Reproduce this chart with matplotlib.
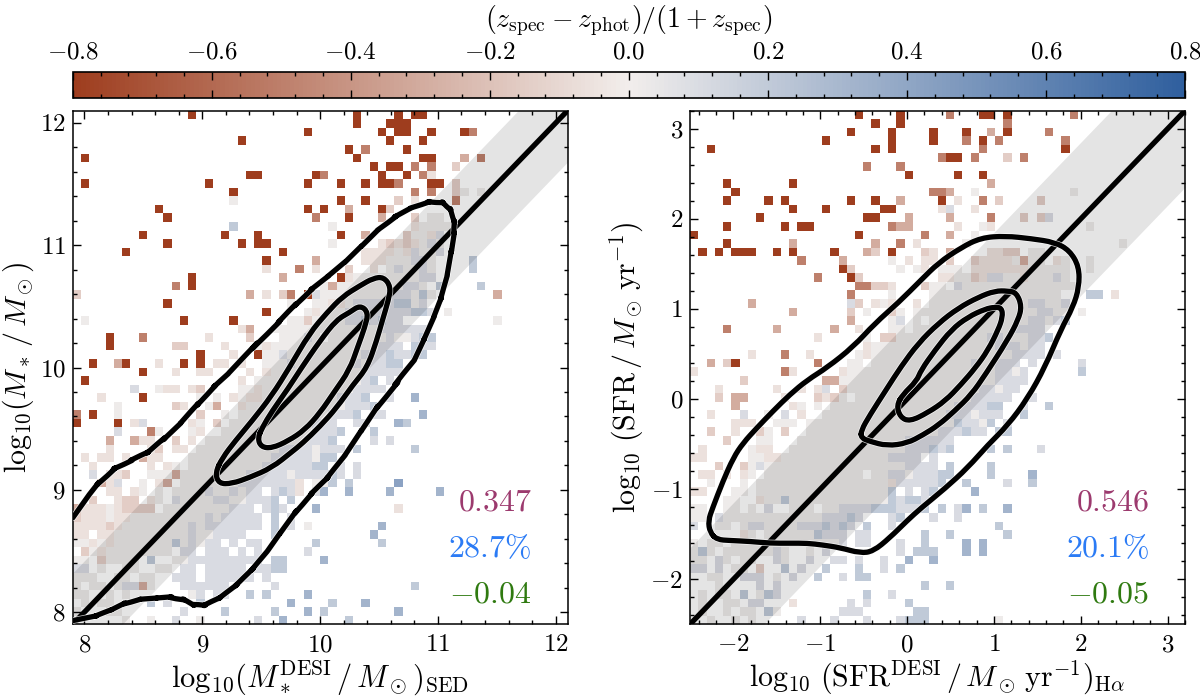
import numpy as np
import matplotlib
matplotlib.use('Agg')
import matplotlib.pyplot as plt
import matplotlib.patheffects as pe
from matplotlib.cm import ScalarMappable
from matplotlib.colors import LinearSegmentedColormap, Normalize
from matplotlib.patches import PathPatch
from matplotlib.path import Path
from matplotlib.ticker import MultipleLocator

plt.rcParams['mathtext.fontset'] = 'cm'
plt.rcParams['font.family'] = ['cmr10', 'DejaVu Serif']
plt.rcParams['axes.unicode_minus'] = False

N_BINS = 60

mass_lim = [7.9, 12.1]
sfr_lim = [-2.5, 3.2]
mass_scatter = 0.42
sfr_scatter = 0.85

# median colour residual for each letter used in the cell tables
levels = {'a': -0.8, 'b': -0.5, 'c': -0.3, 'd': -0.15, 'e': -0.06,
          'f': 0.015, 'g': 0.1, 'h': 0.2, 'i': 0.32, 'j': 0.42}

# (row from top, first column, letters); a blank leaves the cell empty
mass_cells = [
    (0, 14, "a"), (0, 34, "a"), (0, 39, "a"), (0, 41, "aa"),
    (1, 34, "a"), (1, 38, "aaa"),
    (2, 28, "a"), (2, 37, "a"), (2, 39, "aa"), (2, 43, "a"), (2, 47, "ab"),
    (3, 20, "a"), (3, 38, "a"), (3, 42, "a"),
    (4, 33, "a"), (4, 35, "b"), (4, 40, "a"),
    (5, 1, "a"), (5, 34, "a"), (5, 42, "aa"), (5, 47, "c"), (5, 49, "b"),
    (6, 36, "a"), (6, 38, "aa"), (6, 41, "b"), (6, 43, "b"), (6, 46, "d"),
    (7, 21, "aa"), (7, 29, "ab"), (7, 37, "a"), (7, 40, "a"), (7, 42, "b"), (7, 43, "e"),
    (8, 1, "a"), (8, 16, "a"), (8, 28, "a"), (8, 32, "a"), (8, 35, "a"), (8, 37, "aab"),
    (8, 43, "aa"), (8, 46, "d"),
    (9, 19, "a"), (9, 41, "b"), (9, 43, "b"), (9, 46, "df"), (9, 49, "f"),
    (10, 19, "f"), (10, 32, "a"), (10, 35, "a"), (10, 39, "d"), (10, 41, "e"), (10, 46, "b"),
    (11, 10, "a"), (11, 28, "a"), (11, 30, "a"), (11, 33, "c"), (11, 37, "ad"),
    (12, 11, "a"), (12, 29, "b"), (12, 33, "a"), (12, 37, "c"), (12, 41, "d"), (12, 43, "ff"),
    (13, 19, "h"), (13, 31, "f"), (13, 41, "effff"),
    (14, 8, "a"), (14, 18, "a"), (14, 22, "a"), (14, 32, "a"), (14, 35, "c"), (14, 40, "dffeg"),
    (15, 11, "a"), (15, 20, "a"), (15, 22, "aa"), (15, 31, "f"), (15, 37, "ededefgf"),
    (16, 6, "a"), (16, 25, "a"), (16, 35, "eeeefegffg"),
    (17, 23, "a"), (17, 29, "c"), (17, 35, "eeefffggf"), (17, 48, "h"),
    (18, 23, "e"), (18, 27, "b"), (18, 29, "e"), (18, 33, "d"), (18, 36, "e fgffgf"), (18, 48, "h"),
    (19, 14, "a"), (19, 25, "c"), (19, 32, "aeffffffffgg"),
    (20, 12, "b"), (20, 14, "a"), (20, 30, "fcffffffffggf h"), (20, 49, "h"),
    (21, 0, "d"), (21, 21, "c"), (21, 23, "e"), (21, 25, "db"), (21, 28, "agffffffffgggfhf"), (21, 51, "c"),
    (22, 11, "a"), (22, 26, "f"), (22, 29, "ffeefggggghhfg"),
    (23, 23, "a"), (23, 28, "fefffgggggggghhg f"),
    (24, 1, "f"), (24, 13, "a"), (24, 19, "a"), (24, 26, "ffdffffgghghgg"), (24, 51, "f"),
    (25, 20, "ec"), (25, 24, "fffffffffffffgggggg"),
    (26, 4, "a"), (26, 8, "b"), (26, 16, "e"), (26, 21, "d"), (26, 25, "fffgf fffffffgffghh"),
    (27, 4, "a"), (27, 12, "dd"), (27, 18, "e"), (27, 22, "fefffffffffffffggg hgg"),
    (28, 15, "a"), (28, 19, "e"), (28, 22, "a"), (28, 23, "ffgfffffffffggghgghh"),
    (29, 2, "a"), (29, 5, "ca"), (29, 10, "e"), (29, 13, "a"), (29, 15, "a"), (29, 17, "ee"), (29, 20, "e"),
    (29, 23, "fffgfffffffgfgghh"),
    (30, 8, "a"), (30, 12, "e"), (30, 15, "ee"), (30, 21, "e ef"), (30, 25, "ffffffffffggggg"),
    (31, 1, "a"), (31, 20, "e"), (31, 22, "fffffffffffffgh g"),
    (32, 7, "g"), (32, 10, "fee"), (32, 14, "ed"), (32, 20, "ffe"), (32, 23, "fffffffffffgggg"),
    (33, 3, "e"), (33, 8, "a"), (33, 15, "f"), (33, 17, "f"), (33, 19, "ef"), (33, 21, "eefffffffffgggh"),
    (33, 38, "g"), (33, 41, "i"),
    (34, 5, "f"), (34, 12, "de"), (34, 16, "fc"), (34, 20, "effffffffffffgggh"),
    (35, 0, "b"), (35, 2, "a"), (35, 5, "f"), (35, 15, "d"), (35, 18, "f"), (35, 20, "fffffffffffgggh gg"),
    (35, 42, "i"),
    (36, 0, "a"), (36, 5, "a"), (36, 7, "eg"), (36, 14, "ef"), (36, 17, "d"), (36, 19, "ffffffffffggg  gg"),
    (36, 39, "ih"),
    (37, 5, "g"), (37, 9, "bf"), (37, 14, "fe"), (37, 18, "fffffffffffgggh   h"),
    (38, 4, "c"), (38, 7, "cee"), (38, 12, "d"), (38, 14, "e"), (38, 16, "ffffffffffffgggh"), (38, 36, "g"),
    (38, 38, "g"),
    (39, 4, "e"), (39, 9, "ed"), (39, 12, "ee"), (39, 15, "ffffffffffggggfggg"), (39, 34, "h"), (39, 41, "h"),
    (40, 1, "e"), (40, 3, "ee"), (40, 6, "e"), (40, 8, "cee"), (40, 14, "ffffffffffgggggfhh"),
    (41, 2, "e"), (41, 9, "e"), (41, 11, "ef"), (41, 14, "fffffffffgggggghh g g"),
    (42, 2, "g"), (42, 4, "eed"), (42, 9, "fff"), (42, 12, "c"), (42, 13, "ffffffffgggggfgggghg"), (42, 34, "g"),
    (43, 3, "ceg"), (43, 8, "f"), (43, 10, "e"), (43, 11, "c"), (43, 13, "fffffffggggggge ff"), (43, 31, "h"),
    (43, 33, "h"), (43, 39, "j"),
    (44, 4, "ee"), (44, 7, "ef"), (44, 10, "f"), (44, 12, "ffffgffgfgg ghge g"), (44, 30, "i"), (44, 33, "i"),
    (44, 38, "i"), (44, 44, "i"),
    (45, 2, "d"), (45, 5, "edd"), (45, 9, "ef"), (45, 12, "gffffggffggg"), (45, 24, "h"), (45, 26, "h"),
    (46, 0, "ceeef"), (46, 5, "edddd"), (46, 11, "ffffffffggg g"), (46, 24, "hg"), (46, 29, "i"), (46, 39, "e"),
    (47, 0, "deeefeef"), (47, 8, "ffff"), (47, 12, "ffffgfggggg h"), (47, 26, "g"),
    (48, 0, "eeeedeff"), (48, 8, "ffffffgfggggggg"), (48, 24, "h"), (48, 26, "g"), (48, 28, "f"), (48, 37, "i"),
    (49, 0, "ee"), (49, 3, "ee"), (49, 5, "ffff"), (49, 9, "fffffgffgggg"), (49, 24, "h"), (49, 36, "i"),
    (50, 0, "ffefe"), (50, 5, "fffff"), (50, 10, "ffhfgfgg g gg"), (50, 29, "h"), (50, 37, "h"),
    (51, 1, "dfef"), (51, 5, "ffffff"), (51, 11, "f gg ggg g g"), (51, 28, "g"),
    (52, 0, "ff"), (52, 3, "dff"), (52, 6, "ff"), (52, 9, "h"), (52, 12, "ffggggggggg gg"), (52, 24, "hh"),
    (52, 30, "i"),
    (53, 0, "gg"), (53, 3, "f"), (53, 6, "ff"), (53, 10, "ff"), (53, 13, "gg ggggg ggh"), (53, 24, "hh"),
    (54, 0, "fff"), (54, 5, "ff"), (54, 8, "ff"), (54, 12, "ggg gggggg g"),
    (55, 0, "f"), (55, 2, "ff"), (55, 5, "fgg"), (55, 8, "cf"), (55, 13, "gggggg"), (55, 24, "g"), (55, 41, "h"),
    (56, 0, "ff"), (56, 4, "f"), (56, 6, "f"), (56, 14, "fg"), (56, 17, "gg"), (56, 21, "h"), (56, 23, "h"),
    (56, 28, "i"),
    (57, 1, "f"), (57, 3, "ff"), (57, 9, "h"), (57, 11, "g"), (57, 15, "h"), (57, 26, "i"), (57, 31, "h"),
    (57, 35, "i"),
    (58, 0, "f"), (58, 4, "ff"), (58, 13, "g"), (58, 18, "h"), (58, 24, "h"), (58, 28, "i"), (58, 30, "h"),
    (58, 39, "i"),
    (59, 6, "f"), (59, 9, "f"), (59, 12, "g"), (59, 15, "f"), (59, 22, "g"), (59, 25, "i"), (59, 33, "h"),
]

sfr_cells = [
    (0, 20, "a"), (0, 25, "a"), (0, 31, "b"), (0, 35, "aa"), (0, 38, "a"), (0, 46, "b"),
    (1, 22, "a"), (1, 25, "a"), (1, 38, "b"),
    (2, 19, "a"), (2, 24, "a"), (2, 29, "a"), (2, 33, "a"), (2, 36, "c"), (2, 38, "a"), (2, 43, "b"),
    (3, 16, "a"), (3, 24, "a"), (3, 29, "a"), (3, 33, "b"), (3, 35, "a"), (3, 37, "b"), (3, 45, "b"),
    (4, 2, "a"), (4, 22, "a"), (4, 24, "a"), (4, 35, "b"), (4, 45, "a"),
    (5, 30, "baa"), (5, 34, "b"), (5, 38, "d"), (5, 40, "b"),
    (6, 21, "b"), (6, 25, "b"),
    (7, 26, "a"), (7, 32, "a"), (7, 35, "a"),
    (8, 4, "a"), (8, 12, "a"), (8, 36, "c"),
    (9, 5, "a"), (9, 29, "bbc"), (9, 34, "f"), (9, 46, "f"),
    (10, 4, "a"), (10, 9, "a"), (10, 11, "a"), (10, 19, "a"), (10, 22, "a"), (10, 25, "c"), (10, 30, "a"),
    (10, 32, "e"), (10, 35, "b"), (10, 37, "d"), (10, 42, "d"),
    (11, 12, "a"), (11, 16, "a"), (11, 23, "aa"), (11, 30, "eg"), (11, 34, "e"),
    (12, 8, "a"), (12, 21, "aa"), (12, 26, "c"), (12, 31, "c"), (12, 36, "b"), (12, 40, "d"), (12, 42, "dg"),
    (13, 4, "a"), (13, 11, "a"), (13, 13, "aa"), (13, 24, "bcc"), (13, 32, "e"), (13, 35, "fe"), (13, 48, "f"),
    (14, 0, "a"), (14, 20, "a"), (14, 28, "b"), (14, 31, "c"), (14, 34, "f"),
    (15, 4, "a"), (15, 12, "c"), (15, 22, "c"), (15, 25, "b"), (15, 27, "e"), (15, 33, "f"), (15, 52, "f"),
    (16, 1, "a"), (16, 3, "a"), (16, 5, "aaa"), (16, 10, "a"), (16, 12, "a"), (16, 17, "a"), (16, 21, "cd"),
    (16, 24, "a"), (16, 28, "de"), (16, 31, "c"), (16, 36, "eedd ff"),
    (17, 13, "b"), (17, 18, "c"), (17, 24, "f"), (17, 26, "e"), (17, 28, "ee"), (17, 31, "d"),
    (17, 34, "deeeefcff ef"), (17, 48, "f"),
    (18, 18, "ad"), (18, 25, "f"), (18, 27, "f"), (18, 28, "e"), (18, 30, "fff"), (18, 34, "eeeeeeefffff"),
    (18, 48, "f"),
    (19, 15, "b"), (19, 19, "ad"), (19, 30, "eeffdeggffefffgf"),
    (20, 20, "bbddf"), (20, 24, "e"), (20, 28, "dff"), (20, 32, "gf"), (20, 34, "fffffffffffff"),
    (21, 19, "b"), (21, 24, "f"), (21, 29, "ffffffffffffffff"), (21, 48, "hh"), (21, 51, "e"),
    (22, 7, "c"), (22, 19, "gd"), (22, 22, "efe"), (22, 27, "e"), (22, 29, "ffffffffffffggffg"),
    (23, 12, "c"), (23, 19, "d"), (23, 21, "f"), (23, 24, "df"), (23, 27, "ff"), (23, 29, "fffffffffffffggff"),
    (23, 47, "f"),
    (24, 19, "c"), (24, 24, "fg"), (24, 27, "f"), (24, 29, "ffffffffffffggfgh"),
    (25, 4, "b"), (25, 10, "c"), (25, 17, "c"), (25, 20, "e"), (25, 24, "ff"), (25, 27, "ffffffffffffgggg"),
    (26, 15, "e"), (26, 21, "f"), (26, 23, "ddfffffffffffggfffggh"),
    (27, 21, "eff"), (27, 24, "fffffffffffffgggfgg"),
    (28, 7, "e"), (28, 11, "b"), (28, 14, "e"), (28, 20, "fef"), (28, 23, "ffffffffffffffffgggg g"),
    (29, 2, "c"), (29, 4, "da"), (29, 15, "b"), (29, 19, "ff"), (29, 22, "ffffffffffffgffggg g"), (29, 47, "g"),
    (30, 0, "e"), (30, 11, "be"), (30, 18, "eff"), (30, 21, "ffffffffffffffffggfg"), (30, 47, "h"),
    (31, 6, "d"), (31, 16, "cc"), (31, 18, "fff"), (31, 21, "ffffffffffffffffgggg"),
    (32, 3, "e"), (32, 10, "e"), (32, 13, "e"), (32, 15, "eg"), (32, 18, "d"), (32, 19, "ffffffffffffffffggfgg"),
    (33, 3, "d"), (33, 5, "cc"), (33, 11, "e"), (33, 15, "ded"), (33, 18, "f ffffffffffffffggggg"), (33, 41, "g"),
    (34, 5, "c"), (34, 12, "ef"), (34, 15, "f"), (34, 17, "fffffffffffffffgggghh"), (34, 40, "g"), (34, 43, "h"),
    (35, 2, "e"), (35, 6, "g"), (35, 9, "f"), (35, 11, "g"), (35, 13, "e"), (35, 16, "fffffffffffffffgggfggg"),
    (35, 40, "h"),
    (36, 5, "eee"), (36, 10, "fff"), (36, 14, "ffffffffffffffffffhggfh"), (36, 38, "g"),
    (37, 2, "d"), (37, 5, "e"), (37, 8, "df"), (37, 11, "d"), (37, 14, "ffffffffffffffffggghgg"), (37, 37, "hh"),
    (38, 4, "d"), (38, 8, "ff"), (38, 13, "fffffffffffffgggggg"),
    (39, 1, "e"), (39, 7, "fee"), (39, 12, "ffffffffffffffggghgh"), (39, 36, "h"), (39, 38, "h"), (39, 42, "g"),
    (40, 0, "ee"), (40, 7, "ffee"), (40, 11, "fffffffffffffgggg g"),
    (41, 3, "d"), (41, 6, "dfg"), (41, 9, "fffffffffffffffffgggg h"), (41, 36, "h"),
    (42, 1, "ee"), (42, 4, "e"), (42, 6, "ef"), (42, 9, "ffffffffffff"), (42, 22, "ffg"), (42, 25, "gfggghh"),
    (42, 36, "h"), (42, 41, "i"),
    (43, 2, "f"), (43, 6, "f"), (43, 8, "ffffffffffffffff"), (43, 24, "egggggh"), (43, 33, "h"), (43, 38, "g"),
    (43, 41, "h"),
    (44, 0, "ee"), (44, 5, "ff"), (44, 8, "ffffffffffffffff"), (44, 24, "h"), (44, 26, "g"), (44, 28, "gh"),
    (44, 34, "i"),
    (45, 4, "ff"), (45, 8, "effhfffffffffffff"), (45, 24, "hghhg"),
    (46, 0, "ff"), (46, 4, "ff"), (46, 7, "f"), (46, 9, "g"), (46, 12, "fff"), (46, 16, "ffgg"), (46, 20, "gghh"),
    (46, 24, "hgggh"), (46, 30, "h"), (46, 32, "gi h"), (46, 38, "i"),
    (47, 0, "ff"), (47, 3, "gff"), (47, 6, "fff"), (47, 9, "fffffffggghg"), (47, 24, "gh"), (47, 29, "g"),
    (47, 32, "g"),
    (48, 0, "g"), (48, 3, "ff"), (48, 6, "fgg"), (48, 9, "ffffggghgh"), (48, 19, "g h"), (48, 24, "g"), (48, 37, "h"),
    (49, 6, "ef"), (49, 9, "ffffffhggg gg"), (49, 28, "h"), (49, 31, "h"), (49, 38, "h"),
    (50, 0, "f"), (50, 2, "ff"), (50, 5, "ffff"), (50, 9, "fffffffffg"), (50, 20, "gg"), (50, 25, "g"),
    (50, 28, "h"), (50, 33, "i"), (50, 35, "i"),
    (51, 0, "fhf"), (51, 4, "fff"), (51, 7, "fff"), (51, 10, "gf"), (51, 14, "f g"), (51, 25, "g"), (51, 27, "hhh"),
    (51, 33, "i"), (51, 35, "i"),
    (52, 0, "ff"), (52, 3, "gf"), (52, 6, "ff"), (52, 10, "gf"), (52, 14, "g"), (52, 17, "gg"), (52, 20, "g"),
    (52, 23, "g"), (52, 26, "i"), (52, 29, "i"),
    (53, 0, "gg"), (53, 3, "g"), (53, 5, "ff"), (53, 8, "d"), (53, 11, "h"), (53, 13, "g"), (53, 16, "h"),
    (53, 20, "h"), (53, 23, "g"), (53, 25, "h"),
    (54, 2, "ff"), (54, 6, "ggg"), (54, 10, "f"), (54, 12, "g"), (54, 15, "h"), (54, 18, "g"), (54, 20, "hh"),
    (55, 3, "f"), (55, 8, "g"), (55, 10, "g"), (55, 28, "h"), (55, 31, "h"),
    (56, 1, "f"), (56, 3, "ff"), (56, 6, "h"), (56, 8, "fhg"), (56, 21, "h"), (56, 24, "g"),
    (57, 1, "f"), (57, 4, "ff"), (57, 7, "gg"), (57, 12, "e"), (57, 19, "g"), (57, 21, "g"), (57, 26, "h"),
    (58, 1, "f"), (58, 4, "f"), (58, 6, "ff"), (58, 9, "hf"), (58, 18, "ggg"), (58, 27, "hh"),
    (59, 2, "f"), (59, 5, "f"), (59, 7, "f"), (59, 13, "g"), (59, 17, "g"), (59, 21, "g"), (59, 25, "ghhh"),
    (59, 37, "f"),
]

# density contours of the two samples, as (x, y) control vertices
mass_outer = [
    (7.9, 8.77), (8.04, 8.96), (8.17, 9.12), (8.32, 9.22), (8.46, 9.26), (8.60, 9.34), (8.74, 9.48),
    (8.89, 9.61), (9.02, 9.77), (9.17, 9.91), (9.28, 10.0), (9.57, 10.31), (9.72, 10.43), (9.85, 10.58),
    (9.99, 10.69), (10.14, 10.80), (10.28, 10.92), (10.42, 11.06), (10.56, 11.19), (10.70, 11.27),
    (10.84, 11.34), (10.99, 11.37), (11.08, 11.34), (11.13, 11.26), (11.15, 11.14), (11.13, 11.07),
    (11.10, 10.85), (11.06, 10.66), (11.0, 10.49), (10.93, 10.33), (10.84, 10.14), (10.76, 9.98),
    (10.56, 9.78), (10.42, 9.59), (10.28, 9.38), (10.14, 9.18), (10.0, 9.03), (9.87, 8.92), (9.73, 8.74),
    (9.59, 8.55), (9.51, 8.44), (9.36, 8.28), (9.23, 8.17), (9.08, 8.07), (8.97, 8.04), (8.89, 8.07),
    (8.80, 8.13), (8.68, 8.12), (8.55, 8.11), (8.40, 8.10), (8.29, 8.05), (8.17, 7.99), (8.04, 7.95),
    (7.9, 7.93),
]
mass_middle = [
    (9.11, 9.14), (9.14, 9.05), (9.25, 9.05), (9.40, 9.10), (9.59, 9.18), (9.76, 9.31), (9.85, 9.38),
    (10.0, 9.52), (10.14, 9.67), (10.28, 9.86), (10.40, 10.0), (10.48, 10.22), (10.53, 10.39),
    (10.58, 10.55), (10.60, 10.66), (10.54, 10.74), (10.45, 10.73), (10.34, 10.67), (10.19, 10.58),
    (10.06, 10.45), (9.91, 10.28), (9.74, 10.0), (9.59, 9.77), (9.42, 9.56), (9.28, 9.40), (9.17, 9.26),
]
mass_inner = [
    (9.47, 9.42), (9.50, 9.35), (9.59, 9.34), (9.73, 9.40), (9.87, 9.49), (10.0, 9.63), (10.12, 9.80),
    (10.25, 9.98), (10.32, 10.17), (10.38, 10.33), (10.41, 10.45), (10.34, 10.51), (10.25, 10.45),
    (10.14, 10.39), (10.0, 10.22), (9.83, 9.98), (9.73, 9.83), (9.59, 9.64), (9.51, 9.51),
]
sfr_outer = [
    (-2.27, -1.48), (-2.29, -1.35), (-2.24, -1.21), (-2.12, -0.91), (-2.0, -0.65), (-1.89, -0.49),
    (-1.73, -0.32), (-1.54, -0.13), (-1.35, 0.05), (-1.15, 0.21), (-0.92, 0.35), (-0.62, 0.58),
    (-0.37, 0.84), (-0.10, 1.07), (0.16, 1.32), (0.36, 1.51), (0.62, 1.68), (0.85, 1.79), (1.13, 1.81),
    (1.43, 1.78), (1.70, 1.74), (1.87, 1.65), (1.98, 1.47), (1.98, 1.24), (1.91, 1.02), (1.77, 0.77),
    (1.59, 0.36), (1.39, 0.01), (1.16, -0.29), (0.93, -0.51), (0.70, -0.76), (0.44, -0.99), (0.16, -1.21),
    (0.0, -1.35), (-0.20, -1.54), (-0.39, -1.69), (-0.54, -1.71), (-0.77, -1.65), (-0.97, -1.62),
    (-1.15, -1.60), (-1.35, -1.60), (-1.58, -1.60), (-1.81, -1.58), (-2.04, -1.57), (-2.19, -1.56),
]
sfr_middle = [
    (-0.53, -0.43), (-0.43, -0.47), (-0.23, -0.52), (0.0, -0.49), (0.18, -0.40), (0.36, -0.29), (0.55, -0.13),
    (0.74, 0.05), (0.90, 0.27), (1.16, 0.66), (1.28, 0.88), (1.32, 1.03), (1.26, 1.18),
    (1.16, 1.20), (1.01, 1.20), (0.82, 1.13), (0.59, 1.01), (0.36, 0.84), (0.13, 0.62), (-0.07, 0.36),
    (-0.23, 0.12), (-0.43, -0.18), (-0.53, -0.35),
]
sfr_inner = [
    (-0.12, -0.07), (-0.08, -0.20), (0.03, -0.25), (0.24, -0.15), (0.44, -0.02), (0.62, 0.16), (0.79, 0.35),
    (0.93, 0.54), (1.05, 0.77), (1.10, 0.91), (1.09, 1.01), (1.01, 1.02), (0.90, 1.0), (0.70, 0.91),
    (0.51, 0.77), (0.32, 0.54), (0.16, 0.32), (0.11, 0.20), (-0.05, 0.05),
]

mass_stats = ["$0.347$", r"$28.7\%$", "$-0.04$"]
sfr_stats = ["$0.546$", r"$20.1\%$", "$-0.05$"]
stat_colors = ['#9c3a6e', '#2b7bf5', '#2f7a10']

mass_ticks = [8, 9, 10, 11, 12]
sfr_xticks = [-2, -1, 0, 1, 2, 3]
sfr_yticks = [-2, -1, 0, 1, 2, 3]
cbar_ticks = [-0.8, -0.6, -0.4, -0.2, 0.0, 0.2, 0.4, 0.6, 0.8]

cmap = LinearSegmentedColormap.from_list('residual', ['#9e3d1e', '#f2eeec', '#2f5f9e'])
norm = Normalize(-0.8, 0.8)


def build_grid(cells):
    grid = np.full((N_BINS, N_BINS), np.nan)
    for row, col, letters in cells:
        for i, letter in enumerate(letters):
            if letter != ' ':
                grid[N_BINS - 1 - row, col + i] = levels[letter]
    return np.ma.masked_invalid(grid)


def contour_path(points, closed=True):
    # quadratic curve through the segment midpoints, the vertices act as control points
    pts = np.array(points, dtype=float)
    if closed:
        mids = (pts + np.roll(pts, -1, axis=0)) / 2
        verts = [mids[-1]]
        for p, m in zip(pts, mids):
            verts += [p, m]
        codes = [Path.MOVETO] + [Path.CURVE3] * (len(verts) - 1)
    else:
        mids = (pts[1:-2] + pts[2:-1]) / 2
        verts = [pts[0], pts[1]]
        codes = [Path.MOVETO, Path.LINETO]
        for p, m in zip(pts[2:-1], mids):
            verts += [p, m]
            codes += [Path.CURVE3, Path.CURVE3]
        verts.append(pts[-1])
        codes.append(Path.LINETO)
    return Path(np.array(verts), codes)


def draw_panel(ax, cells, lims, scatter, contours, stats, xticks, yticks):
    edges = np.linspace(lims[0], lims[1], N_BINS + 1)
    ax.pcolormesh(edges, edges, build_grid(cells), cmap=cmap, norm=norm, linewidth=0, zorder=1)

    # 1:1 relation with its scatter band
    ax.fill_between(lims, [lims[0] - scatter, lims[1] - scatter], [lims[0] + scatter, lims[1] + scatter],
                    color='k', alpha=0.105, lw=0, zorder=2)
    ax.plot(lims, lims, color='k', lw=3.8, zorder=3)

    halo = [pe.Stroke(linewidth=4.8, foreground='white', alpha=0.8), pe.Normal()]
    for line, closed in contours:
        ax.add_patch(PathPatch(contour_path(line, closed), fill=False, ec='k', lw=3.8, zorder=4,
                               joinstyle='round', capstyle='round', path_effects=halo))

    ax.set_xlim(lims)
    ax.set_ylim(lims)
    ax.set_xticks(xticks)
    ax.set_xticklabels([f"${t}$" for t in xticks])
    ax.set_yticks(yticks)
    ax.set_yticklabels([f"${t}$" for t in yticks])
    ax.xaxis.set_minor_locator(MultipleLocator(0.2))
    ax.yaxis.set_minor_locator(MultipleLocator(0.2))
    ax.tick_params(which='both', direction='in', top=True, right=True, width=1.0)
    ax.tick_params(which='major', length=5.5, labelsize=18)
    ax.tick_params(axis='x', which='major', pad=7)
    ax.tick_params(axis='y', which='major', pad=5)
    ax.tick_params(which='minor', length=2.8)
    for s in ax.spines.values():
        s.set_linewidth(1.1)

    for text, color, ypos in zip(stats, stat_colors, [0.236, 0.147, 0.057]):
        ax.text(0.928, ypos, text, transform=ax.transAxes, ha='right', va='center', color=color,
                fontsize=23, zorder=5)


W, H = 1200.0, 700.0
fig = plt.figure(figsize=(12, 7), dpi=100)
ax1 = fig.add_axes([72.7 / W, (H - 624.3) / H, 494.8 / W, 513.6 / H])
ax2 = fig.add_axes([690 / W, (H - 624.3) / H, 495 / W, 513.6 / H])
cax = fig.add_axes([72.7 / W, (H - 97.5) / H, 1112.3 / W, 25.8 / H])

draw_panel(ax1, mass_cells, mass_lim, mass_scatter,
           [(mass_outer, False), (mass_middle, True), (mass_inner, True)],
           mass_stats, mass_ticks, mass_ticks)
draw_panel(ax2, sfr_cells, sfr_lim, sfr_scatter,
           [(sfr_outer, True), (sfr_middle, True), (sfr_inner, True)],
           sfr_stats, sfr_xticks, sfr_yticks)

ax1.set_xlabel(r"$\log_{10}\!(M_*^{\rm DESI}\,/\,M_\odot)_{\rm SED}$", fontsize=22, labelpad=2)
ax1.set_ylabel(r"$\log_{10}\!(M_*\,/\,M_\odot)$", fontsize=21.5, labelpad=3)
ax2.set_xlabel(r"$\log_{10}\,({\rm SFR}^{\rm DESI}\,/\,M_\odot\,{\rm yr}^{-1})_{{\rm H}\alpha}$", fontsize=21.5, labelpad=2)
ax2.set_ylabel(r"$\log_{10}\,({\rm SFR}\,/\,M_\odot\,{\rm yr}^{-1})$", fontsize=21.5, labelpad=3)

cb = fig.colorbar(ScalarMappable(norm=norm, cmap=cmap), cax=cax, orientation='horizontal')
cb.set_ticks(cbar_ticks)
cb.set_ticklabels([f"${t:.1f}$" for t in cbar_ticks])
cax.xaxis.set_minor_locator(MultipleLocator(0.04))
cax.tick_params(which='both', direction='in', top=True, bottom=True, labeltop=True, labelbottom=False, width=1.0)
cax.tick_params(which='major', length=6, labelsize=18, pad=6)
cax.tick_params(which='minor', length=3)
cax.xaxis.set_label_position('top')
cax.set_xlabel(r"$(z_{\rm spec}-z_{\rm phot})/(1+z_{\rm spec})$", fontsize=20, labelpad=10)
cb.outline.set_linewidth(1.2)

fig.savefig('out.png', dpi=100)
